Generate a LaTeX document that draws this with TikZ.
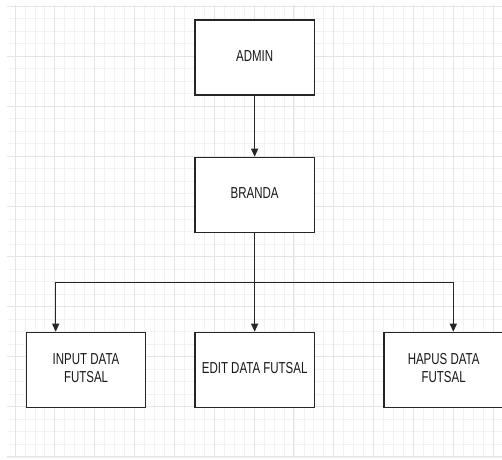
\documentclass[tikz,border=0pt]{standalone}
\usepackage{fontspec}
\setmainfont{Liberation Sans}
\usetikzlibrary{arrows.meta,calc}
\newcommand{\tall}[1]{\scalebox{1}[1.38]{\begin{tabular}{@{}c@{}}#1\end{tabular}}}
\tikzset{
  box/.style={draw=black!85, line width=1.2pt, fill=white, minimum width=119.5pt,
    minimum height=75pt, inner sep=0pt, anchor=north west,
    font=\fontsize{11.5}{13.4}\selectfont, text=black!90},
  arr/.style={draw=black!85, line width=1.2pt, -{Triangle[width=7pt,length=8pt]}},
  conn/.style={draw=black!85, line width=1.2pt},
  minorgrid/.style={draw=black!5, line width=0.8pt},
  majorgrid/.style={draw=black!10, line width=1pt}
}
\begin{document}
\begin{tikzpicture}[x=1pt,y=-1pt]
\useasboundingbox (0,0) rectangle (502,459);
\begin{scope}
\clip (0,0) rectangle (502,459);
\fill[white] (0,0) rectangle (502,459);
% grid
\foreach \k [evaluate=\k as \xx using 15+9.9625*\k] in {0,...,48}{
  \draw[minorgrid] (\xx,5) -- (\xx,457);
}
\foreach \k [evaluate=\k as \yy using 6+12.525*\k] in {0,...,36}{
  \draw[minorgrid] (7,\yy) -- (502,\yy);
}
\foreach \k [evaluate=\k as \xx using 15+39.85*\k] in {0,...,12}{
  \draw[majorgrid] (\xx,5) -- (\xx,457);
}
\foreach \k [evaluate=\k as \yy using 6+50.1*\k] in {0,...,9}{
  \draw[majorgrid] (7,\yy) -- (502,\yy);
}
% boxes
\node[box] (admin)  at (194.3,19.3)  {\tall{ADMIN}};
\node[box] (branda) at (194.3,156.7) {\tall{BRANDA}};
\node[box] (input)  at (25.7,331.7)  {\tall{INPUT DATA\\FUTSAL}};
\node[box] (edit)   at (194.3,331.7) {\tall{EDIT DATA FUTSAL}};
\node[box, minimum width=130pt] (hapus) at (383.3,331.7) {\hspace*{-10.5pt}\tall{HAPUS DATA\\FUTSAL}};
% connectors
\coordinate (j)  at (254.3,282.3);
\coordinate (ti) at ($(input.north west)+(30,0)$);
\coordinate (th) at ($(hapus.north west)+(70,0)$);
\draw[arr] (admin.south) -- (branda.north);
\draw[arr] (branda.south) -- (edit.north);
\draw[arr] (j) -| (ti);
\draw[arr] (j) -| (th);
\end{scope}
\end{tikzpicture}
\end{document}
